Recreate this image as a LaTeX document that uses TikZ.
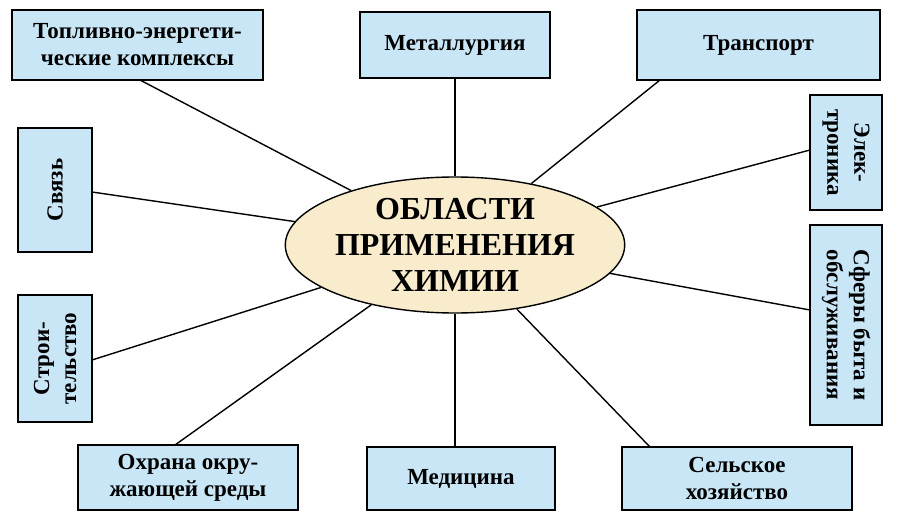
\documentclass[tikz,border=0pt]{standalone}
\usepackage{fontspec}
\setmainfont{Liberation Serif}
\usetikzlibrary{shapes.geometric}
\definecolor{boxblue}{RGB}{200,230,246}
\definecolor{ellbeige}{RGB}{248,236,204}
\begin{document}
\begin{tikzpicture}[x=1pt,y=-1pt,
    area/.style={draw,line width=1.4pt,fill=boxblue,inner sep=0pt,align=center,
      font=\bfseries\fontsize{23}{27}\selectfont},
    link/.style={line width=1.4pt}
    ]
    \useasboundingbox (0,0) rectangle (900,532);
    \node[ellipse,draw,line width=1.4pt,fill=ellbeige,minimum width=256,minimum height=136,
      inner sep=0pt,align=center,font=\bfseries\fontsize{32}{36}\selectfont] (C) at (455,245)
      {ОБЛАСТИ\\ПРИМЕНЕНИЯ\\ХИМИИ};
    \node[area,minimum width=251,minimum height=70] (fuel) at (137.5,45) {Топливно-энергети-\\ческие комплексы};
    \node[area,minimum width=190,minimum height=66] (metal) at (455,45) {Металлургия};
    \node[area,minimum width=243,minimum height=70] (trans) at (758.5,45) {Транспорт};
    \node[area,minimum width=115,minimum height=72,rotate=-90] (elec) at (846,152.5) {Элек-\\троника};
    \node[area,minimum width=200,minimum height=72,rotate=-90] (serv) at (846,325) {Сферы быта и\\обслуживания};
    \node[area,minimum width=124,minimum height=74,rotate=90] (svyaz) at (55,190) {Связь};
    \node[area,minimum width=127,minimum height=74,rotate=90] (build) at (55,358.5) {Строи-\\тельство};
    \node[area,minimum width=220,minimum height=65] (eco) at (188,477.5) {Охрана окру-\\жающей среды};
    \node[area,minimum width=188,minimum height=63] (med) at (461,478.5) {Медицина};
    \node[area,minimum width=230,minimum height=63] (agro) at (737,478.5) {Сельское\\хозяйство};
    \coordinate (fuelE) at (140,80);
    \coordinate (transE) at (660,80);
    \coordinate (elecE) at (810,150);
    \coordinate (servE) at (810,310);
    \coordinate (svyazE) at (92,192);
    \coordinate (buildE) at (92,360);
    \coordinate (ecoE) at (175,445);
    \coordinate (medE) at (455,447);
    \coordinate (agroE) at (650,447);
    \draw[link] (fuelE) -- (C);
    \draw[link] (metal.south -| C) -- (C);
    \draw[link] (transE) -- (C);
    \draw[link] (elecE) -- (C);
    \draw[link] (servE) -- (C);
    \draw[link] (svyazE) -- (C);
    \draw[link] (buildE) -- (C);
    \draw[link] (ecoE) -- (C);
    \draw[link] (medE) -- (C);
    \draw[link] (agroE) -- (C);
\end{tikzpicture}
\end{document}
